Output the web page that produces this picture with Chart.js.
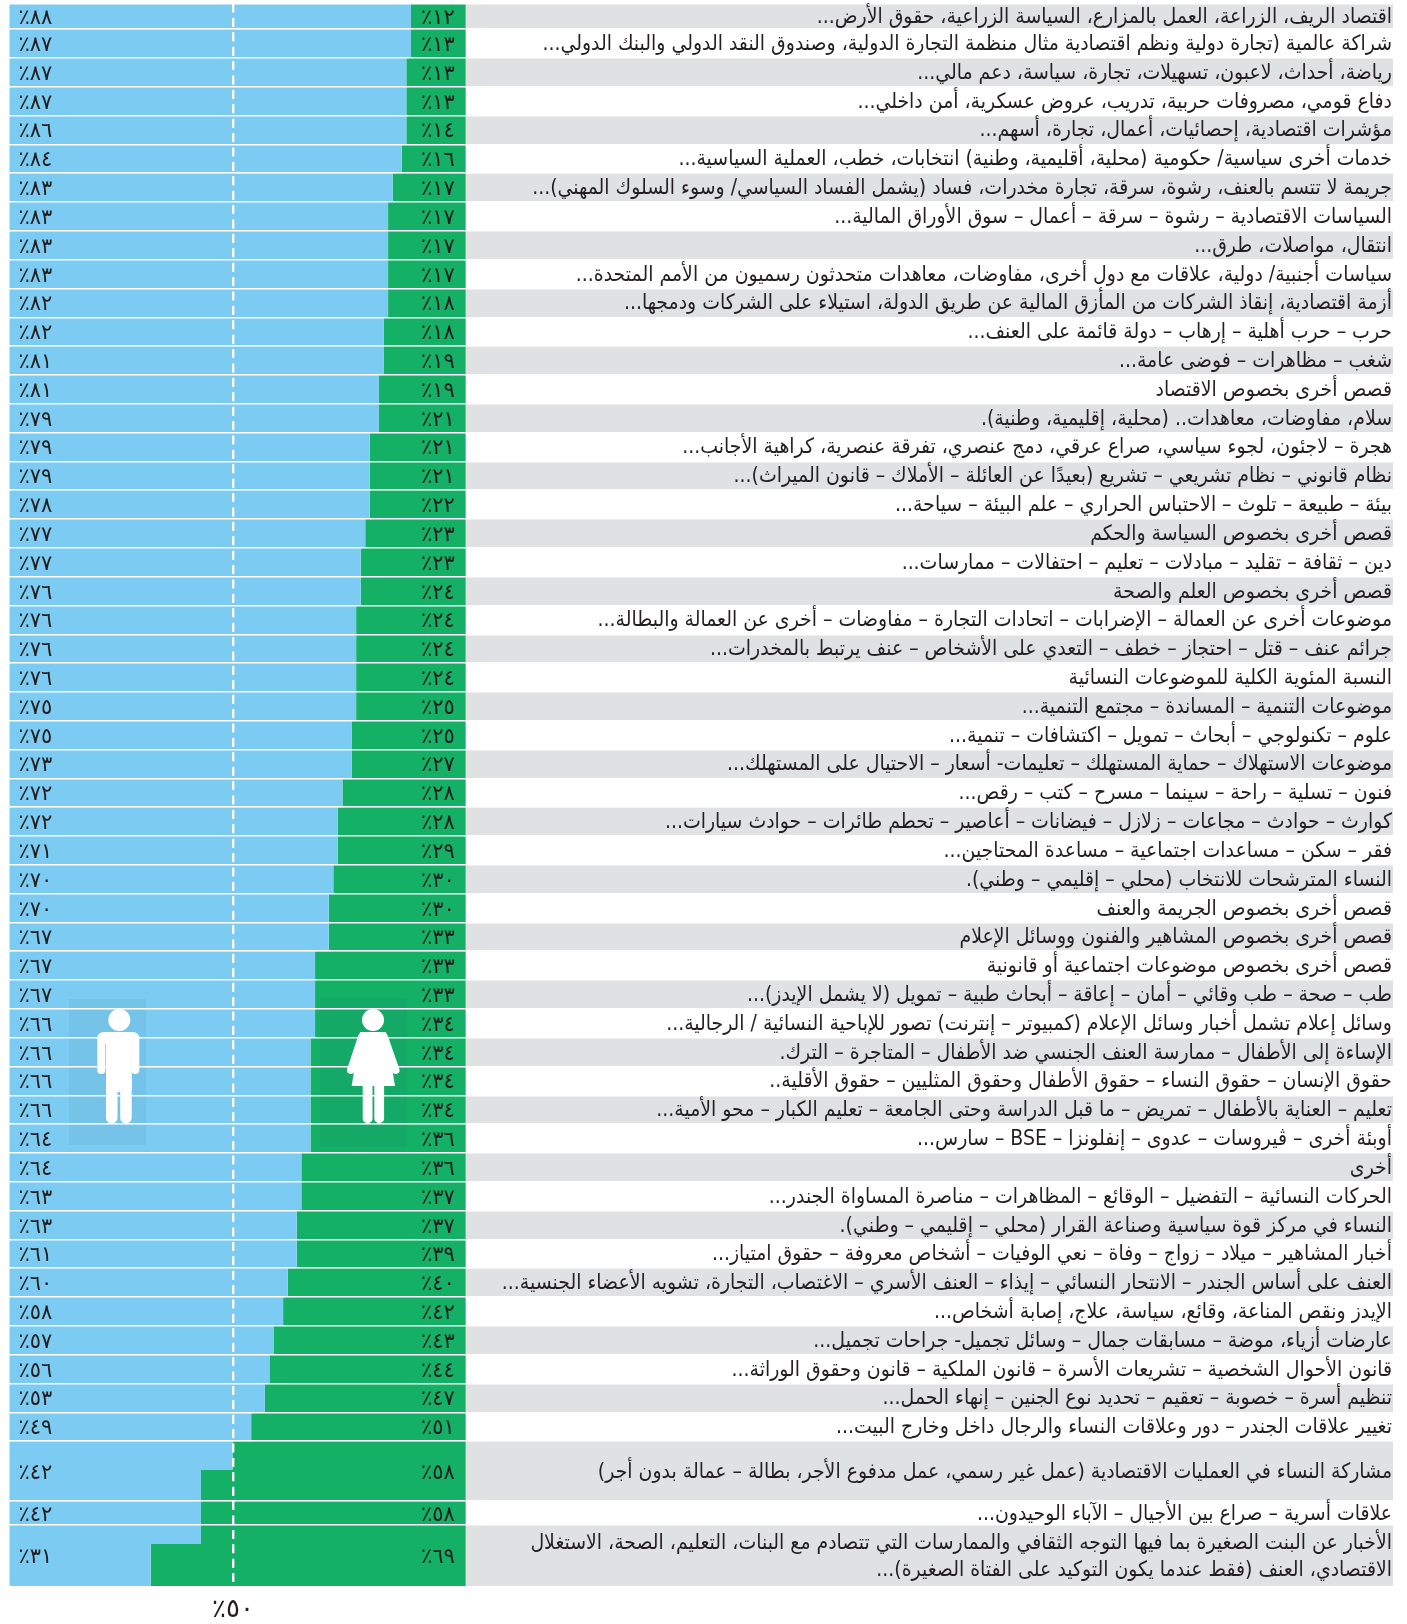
<!DOCTYPE html>
<html lang="ar">
<head>
<meta charset="utf-8">
<title>Chart</title>
<script src="https://cdn.jsdelivr.net/npm/chart.js@4/dist/chart.umd.js"></script>
<style>
  html, body { margin: 0; padding: 0; background: #fff; }
  canvas { display: block; }
</style>
</head>
<body>
<canvas id="topicsChart" width="1407" height="1624" dir="rtl"></canvas>
<script>
// topic rows, top to bottom
var categories = [
  "اقتصاد الريف، الزراعة، العمل بالمزارع، السياسة الزراعية، حقوق الأرض...",
  "شراكة عالمية (تجارة دولية ونظم اقتصادية مثال منظمة التجارة الدولية، وصندوق النقد الدولي والبنك الدولي...",
  "رياضة، أحداث، لاعبون، تسهيلات، تجارة، سياسة، دعم مالي...",
  "دفاع قومي، مصروفات حربية، تدريب، عروض عسكرية، أمن داخلي...",
  "مؤشرات اقتصادية، إحصائيات، أعمال، تجارة، أسهم...",
  "خدمات أخرى سياسية/ حكومية (محلية، أقليمية، وطنية) انتخابات، خطب، العملية السياسية...",
  "جريمة لا تتسم بالعنف، رشوة، سرقة، تجارة مخدرات، فساد (يشمل الفساد السياسي/ وسوء السلوك المهني)...",
  "السياسات الاقتصادية – رشوة – سرقة – أعمال – سوق الأوراق المالية...",
  "انتقال، مواصلات، طرق...",
  "سياسات أجنبية/ دولية، علاقات مع دول أخرى، مفاوضات، معاهدات متحدثون رسميون من الأمم المتحدة...",
  "أزمة اقتصادية، إنقاذ الشركات من المأزق المالية عن طريق الدولة، استيلاء على الشركات ودمجها...",
  "حرب – حرب أهلية – إرهاب – دولة قائمة على العنف...",
  "شغب – مظاهرات – فوضى عامة...",
  "قصص أخرى بخصوص الاقتصاد",
  "سلام، مفاوضات، معاهدات.. (محلية، إقليمية، وطنية).",
  "هجرة – لاجئون، لجوء سياسي، صراع عرقي، دمج عنصري، تفرقة عنصرية، كراهية الأجانب...",
  "نظام قانوني – نظام تشريعي – تشريع (بعيدًا عن العائلة – الأملاك – قانون الميراث)...",
  "بيئة – طبيعة – تلوث – الاحتباس الحراري – علم البيئة – سياحة...",
  "قصص أخرى بخصوص السياسة والحكم",
  "دين – ثقافة – تقليد – مبادلات – تعليم – احتفالات – ممارسات...",
  "قصص أخرى بخصوص العلم والصحة",
  "موضوعات أخرى عن العمالة – الإضرابات – اتحادات التجارة – مفاوضات – أخرى عن العمالة والبطالة...",
  "جرائم عنف – قتل – احتجاز – خطف – التعدي على الأشخاص – عنف يرتبط بالمخدرات...",
  "النسبة المئوية الكلية للموضوعات النسائية",
  "موضوعات التنمية – المساندة – مجتمع التنمية...",
  "علوم – تكنولوجي – أبحاث – تمويل – اكتشافات – تنمية...",
  "موضوعات الاستهلاك – حماية المستهلك – تعليمات- أسعار – الاحتيال على المستهلك...",
  "فنون – تسلية – راحة – سينما – مسرح – كتب – رقص...",
  "كوارث – حوادث – مجاعات – زلازل – فيضانات – أعاصير – تحطم طائرات – حوادث سيارات...",
  "فقر – سكن – مساعدات اجتماعية – مساعدة المحتاجين...",
  "النساء المترشحات للانتخاب (محلي – إقليمي – وطني).",
  "قصص أخرى بخصوص الجريمة والعنف",
  "قصص أخرى بخصوص المشاهير والفنون ووسائل الإعلام",
  "قصص أخرى بخصوص موضوعات اجتماعية أو قانونية",
  "طب – صحة – طب وقائي – أمان – إعاقة – أبحاث طبية – تمويل (لا يشمل الإيدز)...",
  "وسائل إعلام تشمل أخبار وسائل الإعلام (كمبيوتر – إنترنت) تصور للإباحية النسائية / الرجالية...",
  "الإساءة إلى الأطفال – ممارسة العنف الجنسي ضد الأطفال – المتاجرة – الترك.",
  "حقوق الإنسان – حقوق النساء – حقوق الأطفال وحقوق المثليين – حقوق الأقلية..",
  "تعليم – العناية بالأطفال – تمريض – ما قبل الدراسة وحتى الجامعة – تعليم الكبار – محو الأمية...",
  "أوبئة أخرى – ڤيروسات – عدوى – إنفلونزا – BSE – سارس...",
  "أخرى",
  "الحركات النسائية – التفضيل – الوقائع – المظاهرات – مناصرة المساواة الجندر...",
  "النساء في مركز قوة سياسية وصناعة القرار (محلي – إقليمي – وطني).",
  "أخبار المشاهير – ميلاد – زواج – وفاة – نعي الوفيات – أشخاص معروفة – حقوق امتياز...",
  "العنف على أساس الجندر – الانتحار النسائي – إيذاء – العنف الأسري – الاغتصاب، التجارة، تشويه الأعضاء الجنسية...",
  "الإيدز ونقص المناعة، وقائع، سياسة، علاج، إصابة أشخاص...",
  "عارضات أزياء، موضة – مسابقات جمال – وسائل تجميل- جراحات تجميل...",
  "قانون الأحوال الشخصية – تشريعات الأسرة – قانون الملكية – قانون وحقوق الوراثة...",
  "تنظيم أسرة – خصوبة – تعقيم – تحديد نوع الجنين – إنهاء الحمل...",
  "تغيير علاقات الجندر – دور وعلاقات النساء والرجال داخل وخارج البيت...",
  "مشاركة النساء في العمليات الاقتصادية (عمل غير رسمي، عمل مدفوع الأجر، بطالة – عمالة بدون أجر)",
  "علاقات أسرية – صراع بين الأجيال – الآباء الوحيدون...",
  "الأخبار عن البنت الصغيرة بما فيها التوجه الثقافي والممارسات التي تتصادم مع البنات، التعليم، الصحة، الاستغلال\nالاقتصادي، العنف (فقط عندما يكون التوكيد على الفتاة الصغيرة)..."
];

// printed percentages per row
var malePct = [88,87,87,87,86,84,83,83,83,83,82,82,81,81,79,79,79,78,77,77,76,76,76,76,75,75,73,72,72,71,70,70,67,67,67,66,66,66,66,64,64,63,63,61,60,58,57,56,53,49,42,42,31];
var femalePct = [12,13,13,13,14,16,17,17,17,17,18,18,19,19,21,21,21,22,23,23,24,24,24,24,25,25,27,28,28,29,30,30,33,33,33,34,34,34,34,36,36,37,37,39,40,42,43,44,47,51,58,58,69];

// drawn bars: the staircase sits one step below the printed numbers,
// rows 51 and 53 hold two steps each
var maleBar = [88,88,87,87,87,86,84,83,83,83,83,82,82,81,81,79,79,79,78,77,77,76,76,76,76,75,75,73,72,72,71,70,70,67,67,67,66,66,66,66,64,64,63,63,61,60,58,57,56,53,49,42,42,42,31];
var femaleBar = [12,12,13,13,13,14,16,17,17,17,17,18,18,19,19,21,21,21,22,23,23,24,24,24,24,25,25,27,28,28,29,30,30,33,33,33,34,34,34,34,36,36,37,37,39,40,42,43,44,47,51,58,58,58,69];
var barRow = [0,1,2,3,4,5,6,7,8,9,10,11,12,13,14,15,16,17,18,19,20,21,22,23,24,25,26,27,28,29,30,31,32,33,34,35,36,37,38,39,40,41,42,43,44,45,46,47,48,49,50,50,51,52,52];
var barSpan = [0.89,1,1,1,1,1,1,1,1,1,1,1,1,1,1,1,1,1,1,1,1,1,1,1,1,1,1,1,1,1,1,1,1,1,1,1,1,1,1,1,1,1,1,1,1,1,1,1,1,1,1,1.08,0.83,0.66,1.49];

var midValue = 49;
var midLabel = "٥٠٪";
var xEnd = 303.2;

function toArabic(n) {
  return String(n).replace(/[0-9]/g, function (d) { return "٠١٢٣٤٥٦٧٨٩"[d]; }) + "٪";
}

// row geometry in row units
var barTop = [], barBottom = [], barCentre = [];
var total = 0;
barSpan.forEach(function (s) {
  barTop.push(total);
  barCentre.push(total + s / 2);
  total += s;
  barBottom.push(total);
});
var rowEdges = [], rowCentres = [];
categories.forEach(function (c, r) {
  var first = barRow.indexOf(r), last = barRow.lastIndexOf(r);
  rowEdges.push(barTop[first]);
  rowCentres.push((barTop[first] + barBottom[last]) / 2);
});
rowEdges.push(total);

// bar rows are not all the same height, so each bar takes its own edges
class RowBarController extends Chart.BarController {
  _calculateBarIndexPixels(index, ruler) {
    var scale = this._cachedMeta.iScale;
    var a = scale.getPixelForValue(barTop[index]);
    var b = scale.getPixelForValue(barBottom[index]);
    return { base: Math.min(a, b), head: Math.max(a, b), center: (a + b) / 2, size: Math.abs(b - a) };
  }
}
RowBarController.id = 'rowBar';
RowBarController.defaults = Chart.BarController.defaults;
RowBarController.overrides = Chart.BarController.overrides;
Chart.register(RowBarController);

function pill(ctx, x, y, w, h, r) {
  ctx.beginPath();
  ctx.roundRect(x, y, w, h, r);
  ctx.fill();
}

var overlay = {
  id: 'overlay',
  afterDatasetsDraw: function (chart) {
    var ctx = chart.ctx;
    var x = chart.scales.x, y = chart.scales.y;
    ctx.save();

    // figures
    ctx.fillStyle = 'rgba(30,60,100,0.06)';
    ctx.fillRect(69, 999, 77, 146);
    ctx.fillRect(320, 998, 87, 149);
    ctx.fillStyle = '#fff';
    ctx.strokeStyle = '#fff';
    ctx.beginPath(); ctx.arc(119.3, 1020, 11, 0, Math.PI * 2); ctx.fill();
    pill(ctx, 106, 1032, 25.7, 60, 4);
    pill(ctx, 97.3, 1032, 42, 12, 6);
    pill(ctx, 97.3, 1034, 8, 40, 4);
    pill(ctx, 131.3, 1034, 8, 40, 4);
    pill(ctx, 106, 1070, 11.5, 53.3, 5.5);
    pill(ctx, 120.2, 1070, 11.5, 53.3, 5.5);
    ctx.beginPath(); ctx.arc(373, 1020, 11, 0, Math.PI * 2); ctx.fill();
    ctx.beginPath();
    ctx.moveTo(360, 1032); ctx.lineTo(386, 1032); ctx.lineTo(395, 1086); ctx.lineTo(351.7, 1086);
    ctx.closePath(); ctx.fill();
    ctx.lineWidth = 8;
    ctx.lineCap = 'round';
    ctx.beginPath(); ctx.moveTo(362, 1037); ctx.lineTo(351, 1070); ctx.moveTo(384, 1037); ctx.lineTo(395.5, 1070); ctx.stroke();
    pill(ctx, 362.7, 1080, 9.8, 43.3, 4.9);
    pill(ctx, 374.3, 1080, 9.8, 43.3, 4.9);

    // percent labels
    ctx.font = '21px "DejaVu Sans"';
    ctx.fillStyle = '#231f20';
    ctx.textAlign = 'left';
    ctx.textBaseline = 'middle';
    rowCentres.forEach(function (c, i) {
      var py = y.getPixelForValue(c) + 2;
      ctx.fillText(toArabic(malePct[i]), x.getPixelForValue(2), py);
      ctx.fillText(toArabic(femalePct[i]), x.getPixelForValue(90.2), py);
    });
    ctx.restore();
  }
};

new Chart(document.getElementById('topicsChart').getContext('2d'), {
  type: 'rowBar',
  plugins: [overlay],
  data: {
    labels: barCentre,
    datasets: [
      {
        label: 'male',
        data: barCentre.map(function (c, i) { return { x: maleBar[i], y: c }; }),
        backgroundColor: '#7ccbf2'
      },
      {
        label: 'female',
        data: barCentre.map(function (c, i) { return { x: femaleBar[i], y: c }; }),
        backgroundColor: '#14b066'
      },
      {
        label: 'band',
        data: barCentre.map(function (c) { return { x: xEnd - 100, y: c }; }),
        backgroundColor: function (c) { return barRow[c.dataIndex] % 2 === 0 ? '#e0e1e3' : '#ffffff'; }
      }
    ]
  },
  options: {
    indexAxis: 'y',
    responsive: false,
    animation: false,
    layout: { padding: { left: 9.3, top: 3.5, right: 14 } },
    plugins: { legend: { display: false }, tooltip: { enabled: false } },
    scales: {
      x: {
        type: 'linear',
        stacked: true,
        min: 0,
        max: xEnd,
        border: { display: false, dash: [9, 5.4] },
        grid: { color: '#ffffff', lineWidth: 2.4, drawTicks: false, z: 2 },
        afterBuildTicks: function (s) { s.ticks = [{ value: midValue }]; },
        afterFit: function (s) { s.height = 37; s.paddingLeft = 0; s.paddingRight = 0; },
        ticks: {
          autoSkip: false,
          maxRotation: 0,
          padding: 8,
          color: '#231f20',
          font: { family: '"DejaVu Sans"', size: 26 },
          callback: function () { return midLabel; }
        }
      },
      y: {
        type: 'linear',
        stacked: true,
        reverse: true,
        offset: false,
        min: 0,
        max: total,
        border: { display: false },
        grid: { color: '#ffffff', lineWidth: 1.6, drawTicks: false, offset: false, z: 1 },
        afterBuildTicks: function (s) { s.ticks = rowEdges.map(function (v) { return { value: v }; }); },
        afterFit: function (s) { s.width = 0; },
        ticks: { display: false, autoSkip: false }
      },
      y2: {
        type: 'linear',
        position: 'right',
        reverse: true,
        offset: false,
        min: 0,
        max: total,
        border: { display: false },
        grid: { display: false, drawTicks: false, offset: false },
        afterBuildTicks: function (s) { s.ticks = rowCentres.map(function (v) { return { value: v }; }); },
        afterFit: function (s) { s.width = 0; s.paddingTop = 0; s.paddingBottom = 0; },
        ticks: {
          mirror: true,
          autoSkip: false,
          z: 3,
          padding: -1,
          labelOffset: 1,
          color: '#231f20',
          font: { family: '"DejaVu Sans Condensed", "DejaVu Sans"', size: 21, lineHeight: 1.33 },
          callback: function (v, i) {
            var t = categories[i];
            return t.indexOf('\n') >= 0 ? t.split('\n') : t;
          }
        }
      }
    }
  }
});
</script>
</body>
</html>
